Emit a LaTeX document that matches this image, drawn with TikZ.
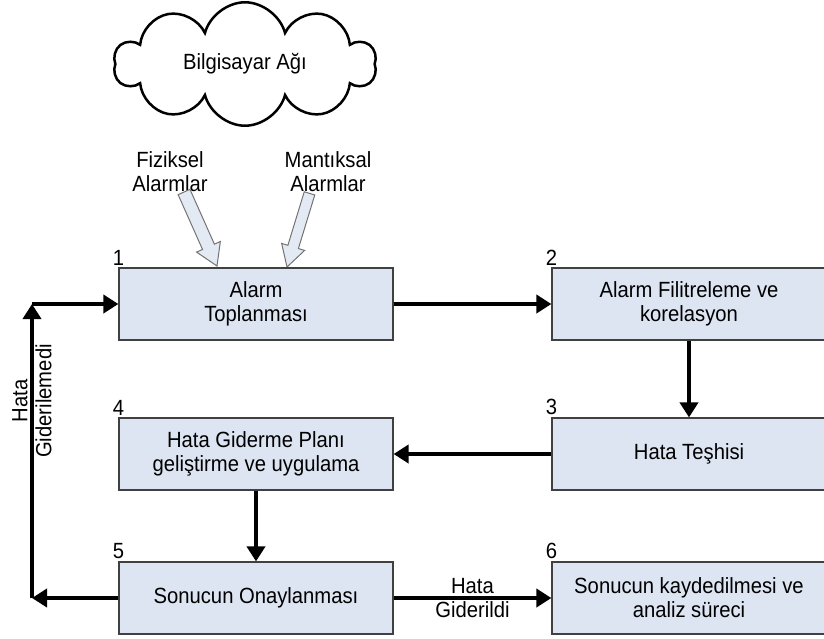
\documentclass[tikz,border=0pt]{standalone}
\usepackage{fontspec}
\setmainfont{Liberation Sans}[FakeStretch=0.92]
\usetikzlibrary{arrows.meta,shapes.symbols}
\definecolor{boxfill}{RGB}{221,229,242}
\definecolor{hollowfill}{RGB}{228,234,244}

\begin{document}
\begin{tikzpicture}[x=1pt, y=-1pt,
  font=\fontsize{22}{24}\selectfont,
  box/.style={draw=black!75, line width=1.2pt, fill=boxfill, minimum width=274pt, minimum height=72pt, align=center, inner sep=0pt},
  num/.style={anchor=south, inner sep=2pt},
  arr/.style={line width=4pt, -{Triangle[length=15pt,width=18pt]}},
  hollow/.style={draw=black!55, line width=1pt, fill=hollowfill}]
  \useasboundingbox (0,0) rectangle (824,638);
  % network and alarm sources
  \node (net) [cloud, draw, line width=2.5pt, cloud puffs=10, aspect=2.2, minimum width=262pt, minimum height=120pt] at (245,64) {Bilgisayar Ağı};
  \node (fiz) [align=center] at (170,172) {Fiziksel\\Alarmlar};
  \node (man) [align=center] at (328,172) {Mantıksal\\Alarmlar};
  \begin{scope}[shift={(217,266)}, rotate=-66]
    \draw[hollow] (0,0) -- (-21,13) -- (-21,6.5) -- (-81,6.5) -- (-81,-6.5) -- (-21,-6.5) -- (-21,-13) -- cycle;
  \end{scope}
  \begin{scope}[shift={(287,267)}, rotate=-107]
    \draw[hollow] (0,0) -- (-21,12) -- (-21,5.5) -- (-77,5.5) -- (-77,-5.5) -- (-21,-5.5) -- (-21,-12) -- cycle;
  \end{scope}
  % steps
  \node (b1) [box, label={[num]north west:1}] at (256,304) {Alarm\\Toplanması};
  \node (b2) [box, label={[num]north west:2}] at (689,304) {Alarm Filitreleme ve\\korelasyon};
  \node (b3) [box, label={[num]north west:3}] at (689,454) {Hata Teşhisi};
  \node (b4) [box, label={[num]north west:4}] at (256,454) {Hata Giderme Planı\\geliştirme ve uygulama};
  \node (b5) [box, label={[num]north west:5}] at (256,598) {Sonucun Onaylanması};
  \node (b6) [box, label={[num]north west:6}] at (689,598) {Sonucun kaydedilmesi ve\\analiz süreci};
  \path[arr]
  (b1) edge (b2)
  (b2) edge (b3)
  (b3) edge (b4)
  (b4) edge (b5)
  (b5) edge node [align=center] {Hata\\Giderildi} (b6);
  % feedback loop
  \coordinate (c5) at (32,598);
  \coordinate (c1) at (32,304);
  \draw[arr] (b5.west) -- (c5);
  \draw[arr] (c5) -- node [pos=0.67, rotate=90, align=center] {Hata\\Giderilemedi} (c1);
  \draw[arr] (c1) -- (b1.west);
\end{tikzpicture}
\end{document}
